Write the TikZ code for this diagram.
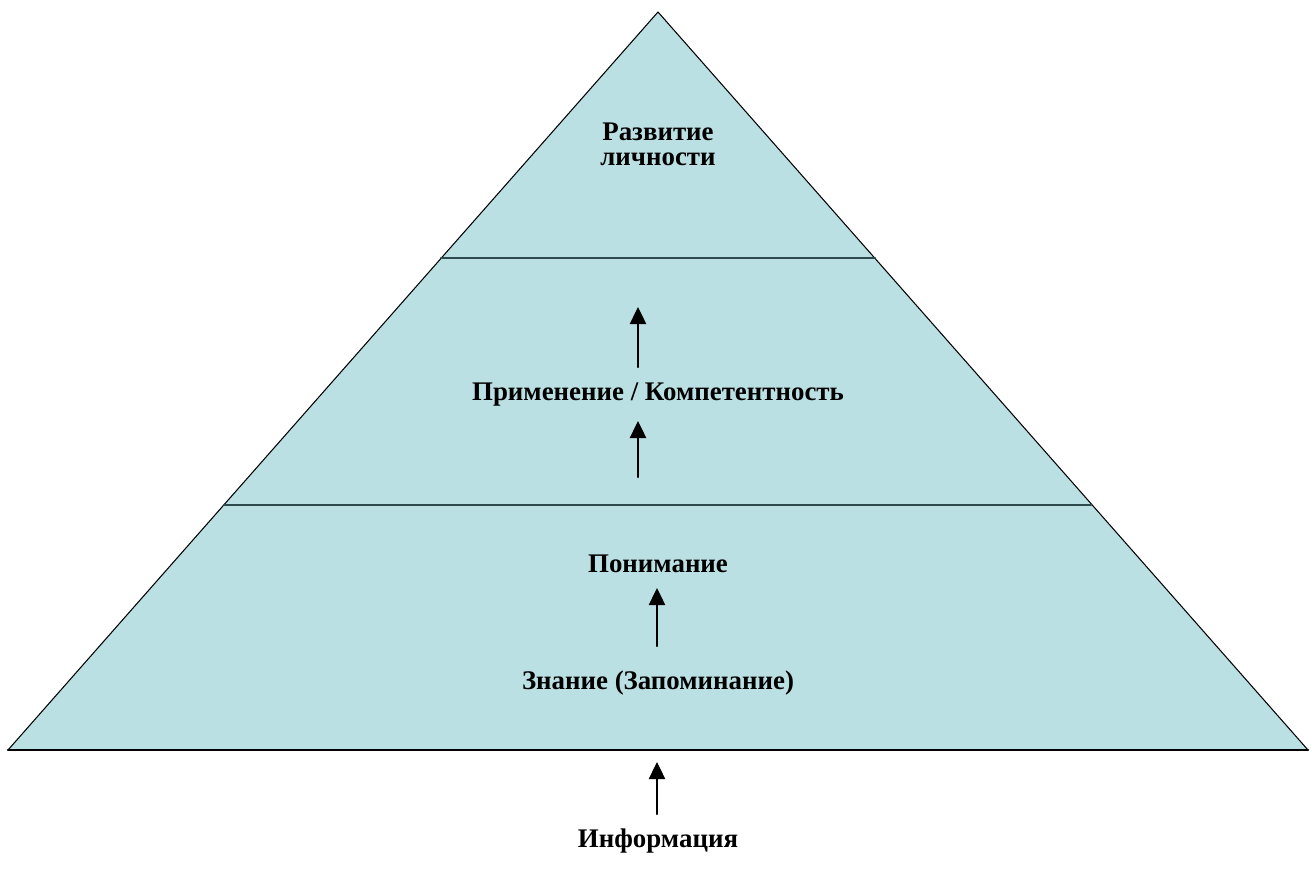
\documentclass[tikz,border=0pt]{standalone}
\usepackage{fontspec}
\setmainfont{Liberation Serif}
\usetikzlibrary{arrows.meta}
\definecolor{pyrfill}{HTML}{BBE0E3}
\definecolor{pyrline}{HTML}{2F4A4F}
\definecolor{baseline}{HTML}{5E6B6E}
\tikzset{
  every picture/.style={line join=round, line cap=round},
  level/.style={font=\fontsize{15.3}{14.2}\selectfont\bfseries, align=center, inner sep=1pt},
  divider/.style={pyrline, line width=1.2pt},
  up/.style={-{Triangle[length=0.34cm,width=0.32cm]}, line width=1.4pt},
}
\begin{document}
\begin{tikzpicture}[x=0.02cm,y=-0.02cm]
\useasboundingbox (0,0) rectangle (1312,879);
% pyramid
\coordinate (apex) at (658,12);
\coordinate (bl) at (8,750);
\coordinate (br) at (1308,750);
\coordinate (tl) at (441,258);
\coordinate (tr) at (875,258);
\coordinate (ml) at (224,505);
\coordinate (mr) at (1091,505);
\fill[pyrfill] (bl)--(apex)--(br)--cycle;
\draw[line width=0.6pt] (bl)--(apex)--(br);
\draw[baseline, line width=1.4pt] (bl)--(br);
\draw[divider] (tl)--(tr);
\draw[divider] (ml)--(mr);
% levels
\node[level] (dev) at (658,144) {Развитие\\личности};
\node[level] (app) at (658,395) {Применение / Компетентность};
\node[level] (und) at (658,564) {Понимание};
\node[level] (know) at (658,683) {Знание (Запоминание)};
\node[level] (info) at (658,841) {Информация};
% arrows
\coordinate (a1s) at (638,367); \coordinate (a1e) at (638,307);
\coordinate (a2s) at (638,477); \coordinate (a2e) at (638,421);
\coordinate (a3s) at (657,646); \coordinate (a3e) at (657,588);
\coordinate (a4s) at (657,814); \coordinate (a4e) at (657,762);
\draw[up] (a1s)--(a1e);
\draw[up] (a2s)--(a2e);
\draw[up] (a3s)--(a3e);
\draw[up] (a4s)--(a4e);
\end{tikzpicture}
\end{document}
